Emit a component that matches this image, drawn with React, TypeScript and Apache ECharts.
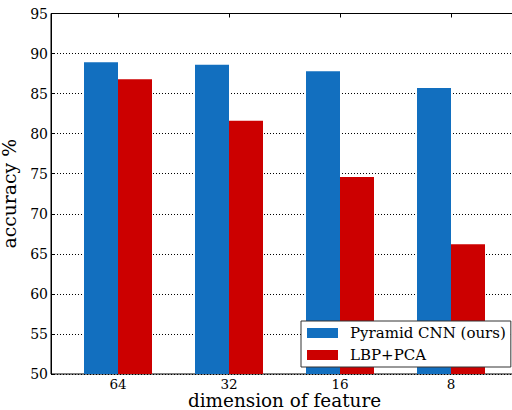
import React, { useEffect, useRef } from "react";
import * as echarts from "echarts";

const categories = ["64", "32", "16", "8"];
const pyramidCnn = [88.9, 88.6, 87.8, 85.7];
const lbpPca = [86.8, 81.6, 74.6, 66.2];
const seriesNames = ["Pyramid CNN (ours)", "LBP+PCA"];
const yMin = 50;
const yMax = 95;
const yStep = 5;

const FONT = "DejaVu Serif";

export default function App() {
  const ref = useRef<HTMLDivElement>(null);
  useEffect(() => {
    if (!ref.current) return;
    const chart = echarts.init(ref.current, null, { renderer: "svg", width: 512, height: 410 });
    const top = 13.5;
    const height = 360.5;
    chart.setOption({
      animation: false,
      backgroundColor: "#fff",
      textStyle: { fontFamily: FONT, color: "#000" },
      grid: [
        { left: 51, width: 467, top, height, show: true, borderColor: "#000", borderWidth: 1, backgroundColor: "transparent", containLabel: false, outerBoundsMode: "none" },
        { left: 62.5, width: 444, top, height, containLabel: false, outerBoundsMode: "none" },
      ],
      xAxis: [
        {
          gridIndex: 0,
          type: "value",
          min: 0,
          max: 1,
          axisLine: { show: false },
          axisTick: { show: false },
          axisLabel: { show: false },
          splitLine: { show: false },
          name: "dimension of feature",
          nameLocation: "middle",
          nameGap: 17.5,
          nameTextStyle: { fontFamily: FONT, fontSize: 18.4, lineHeight: 18, color: "#000" },
        },
        {
          gridIndex: 1,
          type: "category",
          data: categories,
          position: "bottom",
          axisLine: { show: false },
          axisTick: { show: true, inside: true, length: 4, alignWithLabel: true, lineStyle: { color: "#000" } },
          axisLabel: { fontFamily: FONT, fontSize: 13.5, lineHeight: 13, color: "#000", margin: 3.5 },
          splitLine: { show: false },
        },
        {
          gridIndex: 1,
          type: "category",
          data: categories,
          position: "top",
          axisLine: { show: false },
          axisTick: { show: true, inside: true, length: 4, alignWithLabel: true, lineStyle: { color: "#000" } },
          axisLabel: { show: false },
          splitLine: { show: false },
        },
      ],
      yAxis: [
        {
          gridIndex: 0,
          type: "value",
          min: yMin,
          max: yMax,
          interval: yStep,
          axisLine: { show: true, lineStyle: { color: "#000" } },
          axisTick: { show: true, inside: true, length: 4, lineStyle: { color: "#000" } },
          axisLabel: { fontFamily: FONT, fontSize: 14, color: "#000", margin: 3 },
          splitLine: { show: true, lineStyle: { color: "#000", type: [1, 2], width: 1 } },
          name: "accuracy %",
          nameLocation: "middle",
          nameGap: 23,
          nameRotate: 90,
          nameTextStyle: { fontFamily: FONT, fontSize: 18.8, color: "#000" },
        },
        {
          gridIndex: 1,
          type: "value",
          min: yMin,
          max: yMax,
          interval: yStep,
          show: false,
          splitLine: { show: false },
        },
      ],
      legend: {
        orient: "vertical",
        left: 301,
        top: 321,
        padding: [4, 5, 4, 6],
        itemWidth: 31,
        itemHeight: 10,
        itemGap: 6,
        backgroundColor: "#fff",
        borderColor: "#333",
        borderWidth: 1,
        borderRadius: 0,
        icon: "rect",
        data: seriesNames,
        textStyle: { fontFamily: FONT, fontSize: 15, color: "#000", lineHeight: 16, padding: [0, 0, 0, 7] },
      },
      series: [
        {
          name: seriesNames[0],
          type: "bar",
          xAxisIndex: 1,
          yAxisIndex: 1,
          data: pyramidCnn,
          barWidth: 34,
          barGap: "0%",
          itemStyle: { color: "#126fbf" },
        },
        {
          name: seriesNames[1],
          type: "bar",
          xAxisIndex: 1,
          yAxisIndex: 1,
          data: lbpPca,
          barWidth: 34,
          barGap: "0%",
          itemStyle: { color: "#cc0000" },
        },
      ],
    });
    return () => chart.dispose();
  }, []);
  return (
    <div
      ref={ref}
      style={{ position: "fixed", left: 0, top: 0, width: 512, height: 410 }}
    />
  );
}
